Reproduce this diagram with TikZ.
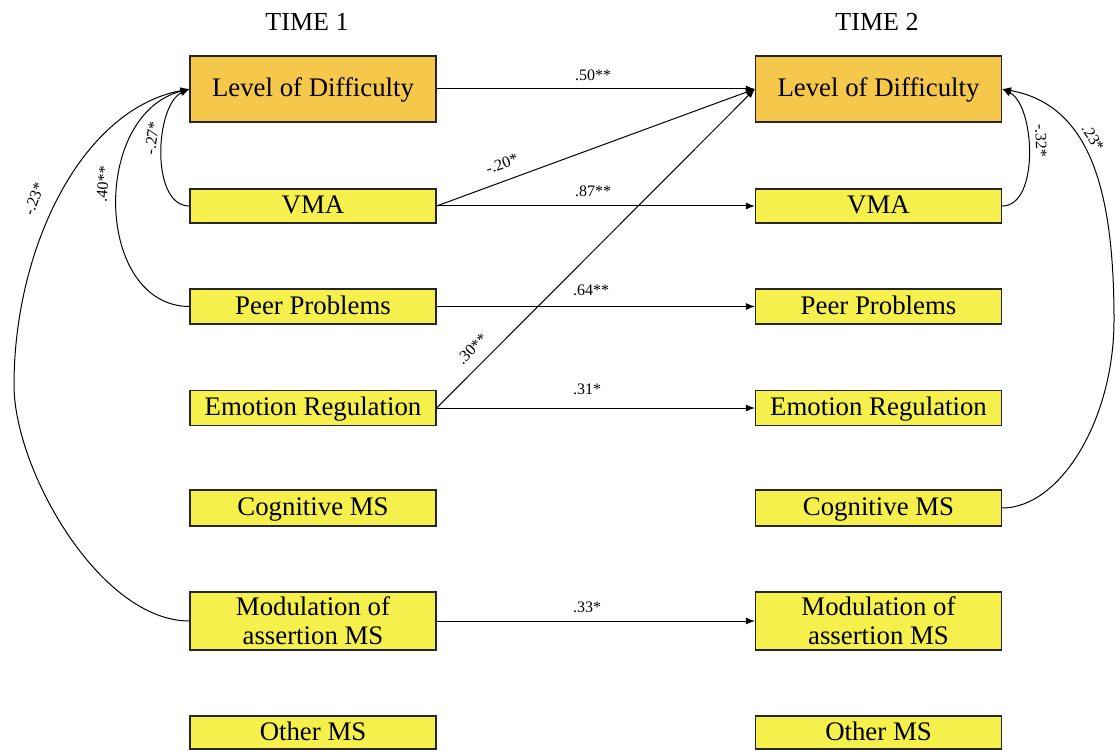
\documentclass[tikz,border=0pt]{standalone}
\usepackage{fontspec}
\setmainfont{Liberation Serif}
\usetikzlibrary{arrows.meta}
\definecolor{lodfill}{RGB}{245,200,75}
\definecolor{varfill}{RGB}{245,240,75}
\begin{document}
\begin{tikzpicture}[x=1pt,y=-1pt,
  var/.style={draw=black!85,line width=1.2pt,fill=varfill,minimum width=246pt,
    inner sep=0pt,font=\fontsize{26.8}{29}\selectfont,align=center},
  single/.style={var,text height=19pt,text depth=4pt},
  lod/.style={single,fill=lodfill,minimum height=66pt},
  pathline/.style={line width=1pt,-{Latex[length=9pt,width=7pt]}},
  plain/.style={line width=1pt},
  coef/.style={font=\fontsize{16}{18}\selectfont,inner sep=0pt},
  heading/.style={font=\fontsize{26}{28}\selectfont,inner sep=0pt}]
\useasboundingbox (0,0) rectangle (1115,751);

% column headings
\node[heading] (t1) at (307,22) {TIME 1};
\node[heading] (t2) at (877,22) {TIME 2};

% time 1 variables
\node[lod] (lod1) at (313,89) {Level of Difficulty};
\node[single,minimum height=34pt] (vma1) at (313,206) {VMA};
\node[single,minimum height=35pt] (pp1) at (313,306.5) {Peer Problems};
\node[single,minimum height=35pt] (er1) at (313,408) {Emotion Regulation};
\node[single,minimum height=36pt] (cog1) at (313,508) {Cognitive MS};
\node[var,minimum height=58pt] (mod1) at (313,621) {Modulation of\\assertion MS};
\node[single,minimum height=33pt] (oth1) at (313,732.5) {Other MS};

% time 2 variables
\node[lod] (lod2) at (878.5,89) {Level of Difficulty};
\node[single,minimum height=34pt] (vma2) at (878.5,206) {VMA};
\node[single,minimum height=35pt] (pp2) at (878.5,306.5) {Peer Problems};
\node[single,minimum height=35pt] (er2) at (878.5,408) {Emotion Regulation};
\node[single,minimum height=36pt] (cog2) at (878.5,508) {Cognitive MS};
\node[var,minimum height=58pt] (mod2) at (878.5,621) {Modulation of\\assertion MS};
\node[single,minimum height=33pt] (oth2) at (878.5,732.5) {Other MS};

% cross-lagged and stability paths
\draw[pathline] (lod1.east) -- (lod2.west);
\draw[pathline] (vma1.east) -- (lod2.west);
\draw[pathline] (er1.east) -- (lod2.west);
\draw[pathline] (vma1.east) -- (vma2.west);
\draw[pathline] (pp1.east) -- (pp2.west);
\draw[pathline] (er1.east) -- (er2.west);
\draw[pathline] (mod1.east) -- (mod2.west);

\node[coef] (c50) at (593,75) {.50**};
\node[coef,rotate=20] (c20) at (502,164) {-.20*};
\node[coef] (c87) at (593,191) {.87**};
\node[coef] (c64) at (591,290) {.64**};
\node[coef,rotate=45] (c30) at (472,349) {.30**};
\node[coef] (c31) at (587,389) {.31*};
\node[coef] (c33) at (587,607) {.33*};

% time 1 correlations
\coordinate (w1) at (14,385);
\draw[pathline] (vma1.west) .. controls (150,206) and (155,105) .. (lod1.west);
\draw[pathline] (pp1.west) .. controls (95,306) and (90,115) .. (lod1.west);
\draw[plain] (mod1.west) .. controls (100,621) and (14,470) .. (w1);
\draw[pathline] (w1) .. controls (14,250) and (80,110) .. (lod1.west);

\node[coef,rotate=82] (c27) at (152,138) {-.27*};
\node[coef,rotate=85] (c40) at (103,184) {.40**};
\node[coef,rotate=70] (c23a) at (34,199) {-.23*};

% time 2 correlations
\coordinate (w2) at (1114,320);
\draw[pathline] (vma2.east) .. controls (1040,206) and (1035,105) .. (lod2.east);
\draw[plain] (cog2.east) .. controls (1060,508) and (1114,420) .. (w2);
\draw[pathline] (w2) .. controls (1114,190) and (1090,105) .. (lod2.east);

\node[coef,rotate=-88] (c32) at (1041,141) {-.32*};
\node[coef,rotate=-58] (c23b) at (1093,138) {.23*};
\end{tikzpicture}
\end{document}
